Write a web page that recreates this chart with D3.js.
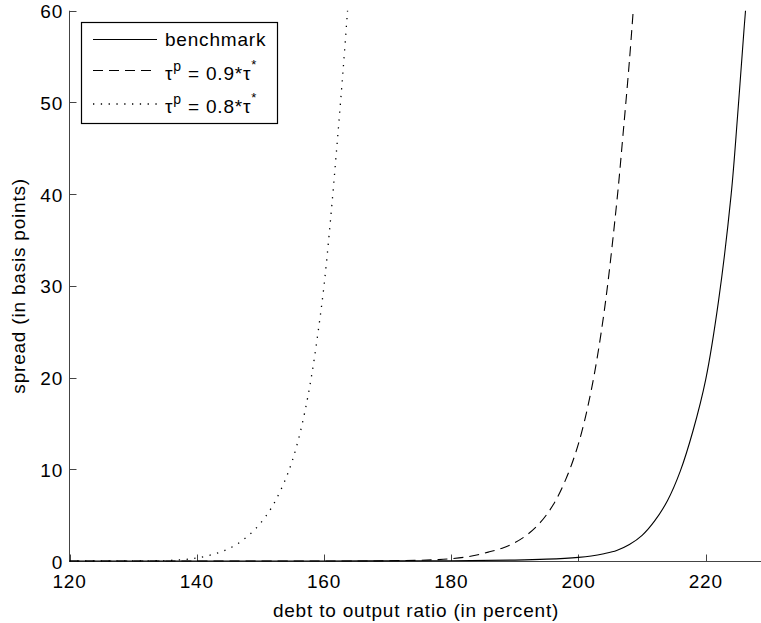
<!DOCTYPE html>
<html><head><meta charset="utf-8">
<script src="https://cdn.jsdelivr.net/npm/d3@7"></script>
<style>
body{margin:0;background:#fff;}
text{font-family:"Liberation Sans",Arial,Helvetica,sans-serif;fill:#000;}
</style></head>
<body>
<svg id="c" width="761" height="623"></svg>
<script>
// ---- data ----
const benchmarkX = [120,140,160,180,190,195,200,202,204,206,208,210,212,214,216,218,220,222,224,225,226,226.25];
const benchmarkY = [0,0,0.005,0.03,0.1,0.2,0.4,0.55,0.8,1.15,1.8,2.8,4.4,6.6,9.8,14.2,19.8,28.3,40,48.5,57.8,60];
const tau09X = [120,160,170,178,180,182,184,186,188,190,192,194,196,198,200,202,204,206,207,208,208.6];
const tau09Y = [0,0.005,0.02,0.15,0.25,0.4,0.65,1.0,1.4,2.0,2.9,4.2,6.1,8.9,12.8,18.6,27,39,46.5,54.5,60];
const tau08X = [120,130,135,138,140,142,144,146,148,150,152,154,155,156,157,158,159,160,161,162,163,163.7];
const tau08Y = [0,0.01,0.05,0.16,0.33,0.62,1.05,1.7,2.7,4.1,6.1,9.0,10.9,13.3,16.3,20.0,24.6,30.0,37.0,45.0,53.5,60];
const xTicks = [120,140,160,180,200,220];
const yTicks = [0,10,20,30,40,50,60];
const seriesNames = ["benchmark","0.9","0.8"];
const xLabel = "debt to output ratio (in percent)";
const yLabel = "spread (in basis points)";

const svg = d3.select("#c");
const L = 69.5, T = 10.7, B = 561, R = 763;
const x = d3.scaleLinear().domain([120,229]).range([L,R]);
const y = d3.scaleLinear().domain([0,60]).range([B,T]);
const FS = 19, LS = "0.8px";

svg.append("defs").append("clipPath").attr("id","clip")
  .append("rect").attr("x",L).attr("y",T-1).attr("width",R-L).attr("height",B-T+2);

// axes
const axisColor = "#444";
const gx = svg.append("g");
gx.append("line").attr("x1",L).attr("x2",R).attr("y1",B+0.5).attr("y2",B+0.5).attr("stroke",axisColor);
xTicks.forEach(t=>{
  const px = Math.round(x(t))+0.5;
  gx.append("line").attr("x1",px).attr("x2",px).attr("y1",B).attr("y2",B-6.5).attr("stroke",axisColor);
  gx.append("text").attr("x",x(t)).attr("y",588).attr("text-anchor","middle")
    .attr("font-size",FS).style("letter-spacing",LS).text(t);
});
const gy = svg.append("g");
gy.append("line").attr("x1",L).attr("x2",L).attr("y1",T).attr("y2",B+1).attr("stroke",axisColor);
yTicks.forEach(t=>{
  const py = Math.round(y(t))+0.5;
  gy.append("line").attr("x1",L).attr("x2",L+7).attr("y1",py).attr("y2",py).attr("stroke",axisColor);
  gy.append("text").attr("x",63).attr("y",y(t)+7.5).attr("text-anchor","end")
    .attr("font-size",FS).style("letter-spacing",LS).text(t);
});
svg.append("text").attr("x",416).attr("y",617).attr("text-anchor","middle")
  .attr("font-size",FS).style("letter-spacing",LS).text(xLabel);
svg.append("text").attr("transform","translate(25,"+((T+B)/2)+") rotate(-90)")
  .attr("text-anchor","middle").attr("font-size",FS).style("letter-spacing",LS).text(yLabel);

// curves
const line = d3.line().x(d=>x(d[0])).y(d=>y(d[1])).curve(d3.curveCatmullRom.alpha(0.5));
const styles = [
  {xs:benchmarkX, ys:benchmarkY, dash:null, w:1.1},
  {xs:tau09X, ys:tau09Y, dash:"10,6", w:1.1},
  {xs:tau08X, ys:tau08Y, dash:"1.3,6.5", w:1.3}
];
const gc = svg.append("g").attr("clip-path","url(#clip)");
styles.forEach(s=>{
  const pts = s.xs.map((v,i)=>[v,s.ys[i]]);
  gc.append("path").attr("d",line(pts)).attr("fill","none").attr("stroke","#000")
    .attr("stroke-width",s.w).attr("stroke-dasharray",s.dash);
});

// legend
const lg = svg.append("g");
lg.append("rect").attr("x",81.5).attr("y",22.5).attr("width",196).attr("height",101)
  .attr("fill","#fff").attr("stroke","#000").attr("stroke-width",1.2);
const rows = [39.5, 70.5, 104];
const bases = [46, 80, 113];
styles.forEach((s,i)=>{
  lg.append("line").attr("x1",93).attr("x2",157).attr("y1",rows[i]).attr("y2",rows[i])
    .attr("stroke","#000").attr("stroke-width",s.w).attr("stroke-dasharray",s.dash);
});
lg.append("text").attr("x",165).attr("y",bases[0]).attr("font-size",FS).style("letter-spacing",LS).text(seriesNames[0]);
[1,2].forEach(i=>{
  const t = lg.append("text").attr("x",165).attr("y",bases[i]).attr("font-size",FS).style("letter-spacing",LS);
  t.append("tspan").text("τ");
  t.append("tspan").attr("font-size",14).attr("dy",-9).text("p");
  t.append("tspan").attr("dy",9).text(" = "+seriesNames[i]+"*τ");
  t.append("tspan").attr("font-size",13).attr("dy",-11).text("*");
});
</script>
</body></html>
